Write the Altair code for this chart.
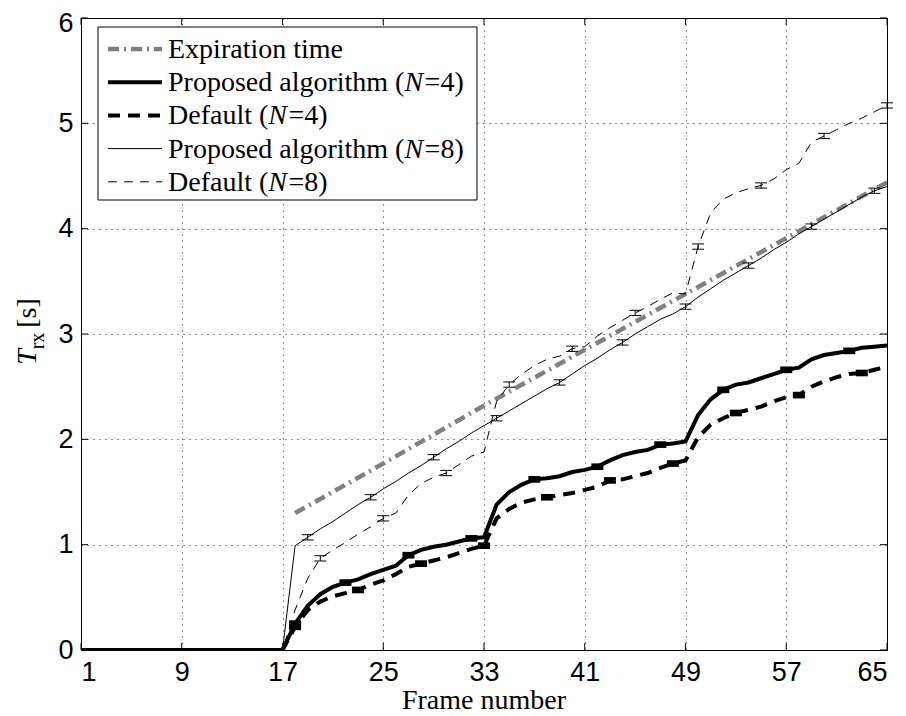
import altair as alt
import pandas as pd

# ---------------- data ----------------
FRAMES = [1, 17, 18, 19, 20, 21, 22, 23, 24, 25, 26, 27, 28, 29, 30, 31, 32, 33,
          34, 35, 36, 37, 38, 39, 40, 41, 42, 43, 44, 45, 46, 47, 48, 49,
          50, 51, 52, 53, 54, 55, 56, 57, 58, 59, 60, 61, 62, 63, 64, 65]

PROP4 = [0.00, 0.00, 0.25, 0.42, 0.53, 0.60, 0.64, 0.67, 0.72, 0.76, 0.80, 0.90, 0.95, 0.98, 1.00, 1.03, 1.06, 1.07,
         1.38, 1.50, 1.57, 1.62, 1.63, 1.65, 1.69, 1.71, 1.74, 1.80, 1.85, 1.88, 1.90, 1.95, 1.96, 1.98,
         2.23, 2.38, 2.47, 2.52, 2.54, 2.58, 2.62, 2.66, 2.68, 2.76, 2.80, 2.82, 2.84, 2.87, 2.88, 2.89]

DEF4 = [0.00, 0.00, 0.22, 0.38, 0.46, 0.51, 0.54, 0.57, 0.62, 0.66, 0.72, 0.79, 0.82, 0.85, 0.88, 0.92, 0.96, 0.99,
        1.25, 1.34, 1.40, 1.43, 1.45, 1.47, 1.49, 1.52, 1.55, 1.61, 1.62, 1.65, 1.68, 1.73, 1.77, 1.80,
        2.02, 2.14, 2.20, 2.25, 2.28, 2.31, 2.36, 2.40, 2.42, 2.50, 2.55, 2.59, 2.62, 2.63, 2.66, 2.69]

PROP8 = [0.00, 0.00, 0.99, 1.07, 1.15, 1.22, 1.30, 1.38, 1.45, 1.53, 1.60, 1.68, 1.75, 1.83, 1.91, 1.98, 2.06, 2.13,
         2.20, 2.27, 2.34, 2.41, 2.48, 2.54, 2.62, 2.70, 2.77, 2.85, 2.92, 3.00, 3.07, 3.14, 3.19, 3.26,
         3.35, 3.43, 3.51, 3.58, 3.65, 3.72, 3.80, 3.87, 3.95, 4.02, 4.09, 4.16, 4.23, 4.30, 4.36, 4.40]

DEF8 = [0.00, 0.00, 0.38, 0.68, 0.87, 0.95, 1.02, 1.10, 1.17, 1.25, 1.30, 1.47, 1.58, 1.64, 1.68, 1.76, 1.84, 1.88,
        2.36, 2.52, 2.62, 2.70, 2.76, 2.79, 2.86, 2.88, 2.98, 3.06, 3.13, 3.20, 3.26, 3.33, 3.39, 3.38,
        3.83, 4.15, 4.28, 4.34, 4.38, 4.41, 4.47, 4.56, 4.62, 4.82, 4.88, 4.94, 5.00, 5.05, 5.11, 5.17]

EXP_FRAMES = [18, 25, 33, 41, 49, 57, 65]
EXP_VALUES = [1.30, 1.77, 2.32, 2.85, 3.38, 3.91, 4.44]

PROP4_ERR_FRAMES = [18, 22, 27, 32, 37, 42, 47, 52, 57, 62]
DEF4_ERR_FRAMES = [18, 23, 28, 33, 38, 43, 48, 53, 58, 63]
PROP8_ERR_FRAMES = [19, 24, 29, 34, 39, 44, 49, 54, 59, 64]
DEF8_ERR_FRAMES = [20, 25, 30, 35, 40, 45, 50, 55, 60, 65]
ERR4 = 0.015
ERR8 = 0.025

X_TICKS = [1, 9, 17, 25, 33, 41, 49, 57, 65]
Y_TICKS = [0, 1, 2, 3, 4, 5, 6]

LEGEND_ROWS = [
    [("Expiration time", False)],
    [("Proposed algorithm (", False), ("N", True), ("=4)", False)],
    [("Default (", False), ("N", True), ("=4)", False)],
    [("Proposed algorithm (", False), ("N", True), ("=8)", False)],
    [("Default (", False), ("N", True), ("=8)", False)],
]

# ---------------- layout ----------------
W, H = 806, 632
SERIF = "Liberation Serif"
SANS = "Liberation Sans"
GRAY = "#808080"

xs = alt.Scale(domain=[1, 65], nice=False, zero=False)
ys = alt.Scale(domain=[0, 6], nice=False, zero=False)
XA = alt.Axis(values=X_TICKS, title=None, grid=True, labelPadding=9, labelBaseline="top")
YA = alt.Axis(values=Y_TICKS, title=None, grid=True, labelPadding=8,
              labelOffset={"condition": {"test": "datum.value === 6", "value": 5}, "value": 0})


def X(field):
    return alt.X(field, scale=xs, axis=XA)


def Y(field):
    return alt.Y(field, scale=ys, axis=YA)


def line_layer(frames, values, color, width, dash=None):
    kw = dict(color=color, strokeWidth=width, clip=True)
    if dash is not None:
        kw["strokeDash"] = dash
    df = pd.DataFrame({"frame": frames, "value": values})
    return alt.Chart(df).mark_line(**kw).encode(x=X("frame:Q"), y=Y("value:Q"))


def err_layers(frames, values, err_frames, half, width, cap):
    lookup = dict(zip(frames, values))
    df = pd.DataFrame({
        "frame": err_frames,
        "lo": [lookup[f] - half for f in err_frames],
        "hi": [lookup[f] + half for f in err_frames],
    })
    base = alt.Chart(df)
    rule = base.mark_rule(color="black", strokeWidth=width, opacity=1).encode(
        x=X("frame:Q"), y=Y("lo:Q"), y2="hi:Q")
    lo = base.mark_tick(color="black", orient="horizontal", size=cap, thickness=width, opacity=1).encode(
        x=X("frame:Q"), y=Y("lo:Q"))
    hi = base.mark_tick(color="black", orient="horizontal", size=cap, thickness=width, opacity=1).encode(
        x=X("frame:Q"), y=Y("hi:Q"))
    return [rule, lo, hi]


layers = []
layers.append(line_layer(EXP_FRAMES, EXP_VALUES, GRAY, 4.5, [11, 5, 2, 5]))
layers.append(line_layer(FRAMES, PROP8, "black", 1.0))
layers.append(line_layer(FRAMES, DEF8, "black", 1.0, [9, 7]))
layers.append(line_layer(FRAMES, DEF4, "black", 4.0, [12, 8]))
layers.append(line_layer(FRAMES, PROP4, "black", 4.0))

layers += err_layers(FRAMES, PROP8, PROP8_ERR_FRAMES, ERR8, 1.0, 12)
layers += err_layers(FRAMES, DEF8, DEF8_ERR_FRAMES, ERR8, 1.0, 12)
layers += err_layers(FRAMES, PROP4, PROP4_ERR_FRAMES, ERR4, 3.5, 12)
layers += err_layers(FRAMES, DEF4, DEF4_ERR_FRAMES, ERR4, 3.5, 12)

# inward tick marks on all four sides
TL = 7
xt = alt.Chart(pd.DataFrame({"t": X_TICKS}))
yt = alt.Chart(pd.DataFrame({"t": Y_TICKS}))
layers.append(xt.mark_rule(color="black", strokeWidth=1).encode(
    x=X("t:Q"), y=alt.value(H), y2=alt.value(H - TL)))
layers.append(xt.mark_rule(color="black", strokeWidth=1).encode(
    x=X("t:Q"), y=alt.value(0), y2=alt.value(TL)))
layers.append(yt.mark_rule(color="black", strokeWidth=1).encode(
    y=Y("t:Q"), x=alt.value(0), x2=alt.value(TL)))
layers.append(yt.mark_rule(color="black", strokeWidth=1).encode(
    y=Y("t:Q"), x=alt.value(W), x2=alt.value(W - TL)))

# ---------------- legend ----------------
one = alt.Chart(pd.DataFrame({"a": [0]}))
LX0, LX1, LY0, LY1 = 17, 396, 9, 182
layers.append(one.mark_rect(fill="white", stroke="black", strokeWidth=1).encode(
    x=alt.value(LX0), x2=alt.value(LX1), y=alt.value(LY0), y2=alt.value(LY1)))

ROW_Y0, ROW_DY = 31, 33.2
SAMPLE_X0, SAMPLE_X1 = 27, 81
TEXT_X = 87
LFS = 28
styles = [
    dict(color=GRAY, strokeWidth=4.5, strokeDash=[11, 5, 2, 5]),
    dict(color="black", strokeWidth=4.0),
    dict(color="black", strokeWidth=4.0, strokeDash=[12, 8]),
    dict(color="black", strokeWidth=1.0),
    dict(color="black", strokeWidth=1.0, strokeDash=[9, 7]),
]
TIMES_W = {' ': 250, '(': 333, ')': 333, '=': 564, '4': 500, '8': 500, 'P': 556, 'r': 333,
           'o': 500, 'p': 500, 's': 389, 'e': 444, 'd': 500, 'a': 444, 'l': 278, 'g': 500,
           'i': 278, 't': 278, 'h': 500, 'm': 778, 'D': 722, 'f': 333, 'u': 500, 'E': 611,
           'x': 500, 'n': 500, 'N': 667}


def text_width(s, size):
    return sum(TIMES_W.get(c, 500) for c in s) * size / 1000.0


for i, (row, st) in enumerate(zip(LEGEND_ROWS, styles)):
    yy = ROW_Y0 + i * ROW_DY
    layers.append(one.mark_rule(**st).encode(
        x=alt.value(SAMPLE_X0), x2=alt.value(SAMPLE_X1), y=alt.value(yy)))
    xx = TEXT_X
    for txt, ital in row:
        kw = dict(text=txt, font=SERIF, fontSize=LFS, align="left", baseline="middle", color="black")
        if ital:
            kw["fontStyle"] = "italic"
        layers.append(one.mark_text(**kw).encode(x=alt.value(xx), y=alt.value(yy + 1)))
        xx += text_width(txt, LFS) + (1.5 if ital else 0)

# ---------------- axis titles ----------------
layers.append(one.mark_text(text="Frame number", font=SERIF, fontSize=28, align="center",
                            baseline="middle", color="black").encode(
    x=alt.value(W / 2), y=alt.value(H + 51)))
layers.append(one.mark_text(text="T", font=SERIF, fontSize=28, fontStyle="italic", angle=270,
                            align="center", baseline="alphabetic", color="black").encode(
    x=alt.value(-45), y=alt.value(339)))
layers.append(one.mark_text(text="rx", font=SERIF, fontSize=20, angle=270,
                            align="center", baseline="alphabetic", color="black").encode(
    x=alt.value(-37), y=alt.value(323)))
layers.append(one.mark_text(text="[s]", font=SERIF, fontSize=28, angle=270,
                            align="center", baseline="alphabetic", color="black").encode(
    x=alt.value(-45), y=alt.value(295)))

chart = alt.layer(*layers).properties(
    width=W, height=H,
    autosize=alt.AutoSizeParams(type="none"),
    padding={"left": 73, "top": 10, "right": 10, "bottom": 65},
    background="white",
).configure_view(
    stroke="black", strokeWidth=1
).configure_axis(
    domain=False, ticks=False, grid=True, gridColor="black", gridDash=[1, 5], gridWidth=1,
    gridOpacity=0.85, labelFont=SANS, labelFontSize=27, labelColor="black", labelOverlap=False,
)

chart.save("out.html", embed_options={"renderer": "svg", "actions": False})
